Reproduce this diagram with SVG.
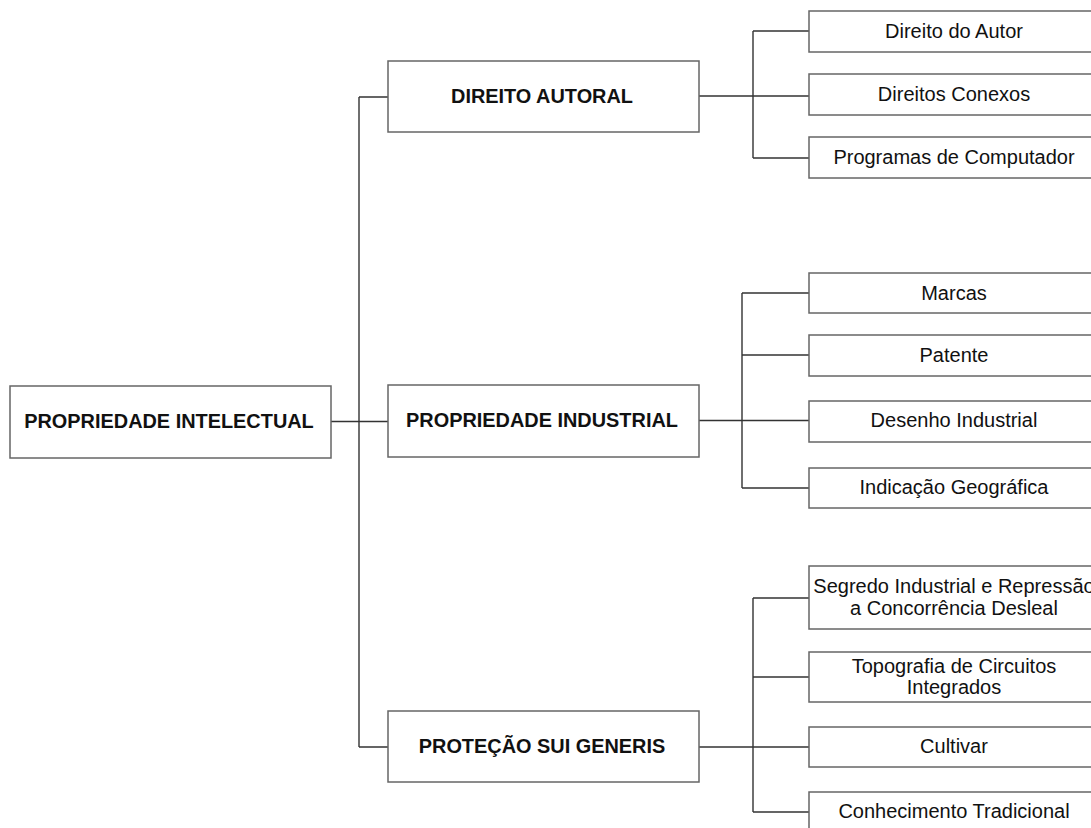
<svg xmlns="http://www.w3.org/2000/svg" width="1091" height="828" viewBox="0 0 1091 828">
<style>
.box{fill:#fff;stroke:#666;stroke-width:1.5}
.b{font-family:"Liberation Sans",Arial,sans-serif;font-weight:bold;font-size:19.9px;fill:#111;text-anchor:middle}
.t{font-family:"Liberation Sans",Arial,sans-serif;font-size:20px;fill:#111;text-anchor:middle}
.c{fill:none;stroke:#333;stroke-width:1.4}
</style>
<rect width="1091" height="828" fill="#fff"/>
<g id="connectors">
<path class="c" d="M331 421.5H388M359 97V747M359 97H388M359 747H388"/>
<path class="c" d="M699 96H809M753 31V158M753 31H809M753 158H809"/>
<path class="c" d="M699 420.5H809M742 293V488M742 293H809M742 355H809M742 488H809"/>
<path class="c" d="M699 747H809M753 598V812M753 598H809M753 677H809M753 812H809"/>
</g>
<g id="n-root"><rect class="box" x="10" y="386" width="321" height="72"/><text class="b" x="169" y="428">PROPRIEDADE INTELECTUAL</text></g>
<g id="n-da"><rect class="box" x="388" y="61" width="311" height="71"/><text class="b" x="542" y="103">DIREITO AUTORAL</text></g>
<g id="n-pi"><rect class="box" x="388" y="385" width="311" height="72"/><text class="b" x="542" y="427">PROPRIEDADE INDUSTRIAL</text></g>
<g id="n-sg"><rect class="box" x="388" y="711" width="311" height="71"/><text class="b" x="542" y="753">PROTEÇÃO SUI GENERIS</text></g>
<g id="n-autor"><rect class="box" x="809" y="11" width="290" height="41"/><text class="t" x="954" y="37.5">Direito do Autor</text></g>
<g id="n-conexos"><rect class="box" x="809" y="74" width="290" height="41"/><text class="t" x="954" y="100.5">Direitos Conexos</text></g>
<g id="n-programas"><rect class="box" x="809" y="137" width="290" height="41"/><text class="t" x="954" y="163.5">Programas de Computador</text></g>
<g id="n-marcas"><rect class="box" x="809" y="273" width="290" height="40"/><text class="t" x="954" y="299.5">Marcas</text></g>
<g id="n-patente"><rect class="box" x="809" y="335" width="290" height="41"/><text class="t" x="954" y="361.5">Patente</text></g>
<g id="n-desenho"><rect class="box" x="809" y="401" width="290" height="41"/><text class="t" x="954" y="427">Desenho Industrial</text></g>
<g id="n-indicacao"><rect class="box" x="809" y="468" width="290" height="40"/><text class="t" x="954" y="494">Indicação Geográfica</text></g>
<g id="n-segredo"><rect class="box" x="809" y="566" width="290" height="63"/><text class="t" x="954" y="593">Segredo Industrial e Repressão</text><text class="t" x="954" y="615">a Concorrência Desleal</text></g>
<g id="n-topografia"><rect class="box" x="809" y="652" width="290" height="50"/><text class="t" x="954" y="672.5">Topografia de Circuitos</text><text class="t" x="954" y="694">Integrados</text></g>
<g id="n-cultivar"><rect class="box" x="809" y="727" width="290" height="40"/><text class="t" x="954" y="753">Cultivar</text></g>
<g id="n-conhecimento"><rect class="box" x="809" y="792" width="290" height="50"/><text class="t" x="954" y="818">Conhecimento Tradicional</text></g>
</svg>
